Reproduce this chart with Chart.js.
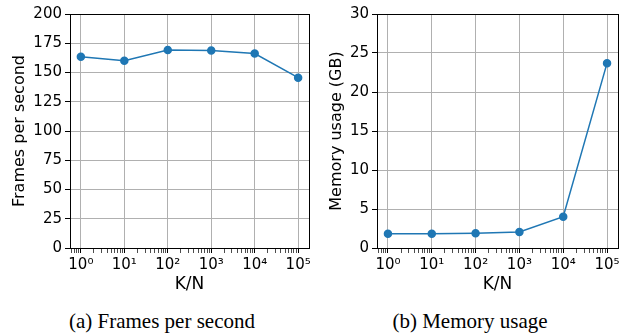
<!DOCTYPE html>
<html>
<head>
<meta charset="utf-8">
<script src="https://cdn.jsdelivr.net/npm/chart.js@4"></script>
<style>
  body { margin: 0; background: #fff; }
  #wrap { position: relative; width: 629px; height: 335px; }
  .box { position: absolute; top: 0; height: 300px; }
  .cap {
    position: absolute; top: 309px; width: 300px; margin-left: -150px;
    text-align: center; font-family: "Liberation Serif", serif;
    font-size: 21px; line-height: 24px; color: #000;
  }
</style>
</head>
<body>
<div id="wrap">
  <div class="box" style="left:0;width:314px"><canvas id="fpsChart"></canvas></div>
  <div class="box" style="left:314px;width:315px"><canvas id="memChart"></canvas></div>
  <div class="cap" style="left:162px">(a) Frames per second</div>
  <div class="cap" style="left:470px">(b) Memory usage</div>
</div>
<script>
const knValues = [1, 10, 100, 1000, 10000, 100000];
const fpsValues = [163.5, 160.1, 169.2, 168.8, 166.2, 145.6];
const memValues = [1.83, 1.83, 1.88, 2.05, 4.02, 23.7];
const fpsTicks = { min: 0, max: 200, step: 25 };
const memTicks = { min: 0, max: 30, step: 5 };

const sup = { 0: "⁰", 1: "¹", 2: "²", 3: "³", 4: "⁴", 5: "⁵" };
const blue = "#1f77b4";
const gridGray = "#b0b0b0";
const tickFont = { family: "DejaVu Sans", size: 15 };
const titleFont = { family: "DejaVu Sans", size: 16 };
const xTitleFont = { family: "DejaVu Sans", size: 17 };

function isMajor(v) {
  const e = Math.log10(v);
  return Math.abs(e - Math.round(e)) < 1e-9;
}

// matplotlib-like closed frame around the plot area
const frame = {
  id: "frame",
  afterDraw(chart) {
    const a = chart.chartArea;
    const c = chart.ctx;
    c.save();
    c.strokeStyle = "#000";
    c.lineWidth = 1;
    c.strokeRect(Math.round(a.left) + 0.5, Math.round(a.top) + 0.5,
      Math.round(a.right - a.left), Math.round(a.bottom - a.top));
    c.restore();
  },
};

function makeChart(id, values, yt, yTitle, yWidth, yTitlePad, padRight) {
  new Chart(document.getElementById(id), {
    type: "line",
    data: {
      datasets: [{
        data: knValues.map((k, i) => ({ x: k, y: values[i] })),
        borderColor: blue,
        backgroundColor: blue,
        borderWidth: 1.5,
        pointRadius: 3.5,
        pointHoverRadius: 3.5,
        tension: 0,
      }],
    },
    options: {
      responsive: false,
      animation: false,
      events: [],
      layout: { padding: { top: 14, right: padRight, left: 0, bottom: 0 } },
      plugins: { legend: { display: false }, tooltip: { enabled: false } },
      scales: {
        x: {
          type: "logarithmic",
          min: Math.pow(10, -0.25),
          max: Math.pow(10, 5.25),
          afterBuildTicks: (s) => {
            const t = [];
            for (let e = -1; e <= 5; e++) {
              for (let m = 1; m <= 9; m++) {
                const v = m * Math.pow(10, e);
                if (v >= s.min && v <= s.max) t.push({ value: v, major: m === 1 });
              }
            }
            s.ticks = t;
          },
          afterFit: (s) => { s.height = 52; },
          border: { color: "#000", width: 1 },
          grid: {
            color: (ctx) => ctx.tick && isMajor(ctx.tick.value) ? gridGray : "rgba(0,0,0,0)",
            lineWidth: 1,
            tickColor: "#000",
            tickWidth: (ctx) => ctx.tick && isMajor(ctx.tick.value) ? 1 : 0.7,
            tickLength: 5,
          },
          ticks: {
            autoSkip: false,
            maxRotation: 0,
            minRotation: 0,
            padding: 3,
            color: "#000",
            font: tickFont,
            callback: (v) => isMajor(v) ? "10" + sup[Math.round(Math.log10(v))] : "",
          },
          title: { display: true, text: "K/N", color: "#000", font: xTitleFont, padding: { top: 0, bottom: 5 } },
        },
        y: {
          min: yt.min,
          max: yt.max,
          afterFit: (s) => { s.width = yWidth; },
          border: { color: "#000", width: 1 },
          grid: { color: gridGray, lineWidth: 1, tickColor: "#000", tickLength: 5 },
          ticks: { stepSize: yt.step, padding: 3, color: "#000", font: tickFont },
          title: { display: true, text: yTitle, color: "#000", font: titleFont, padding: { top: yTitlePad, bottom: 0 } },
        },
      },
    },
    plugins: [frame],
  });
}

document.getElementById("fpsChart").width = 314;
document.getElementById("fpsChart").height = 300;
document.getElementById("memChart").width = 315;
document.getElementById("memChart").height = 300;

makeChart("fpsChart", fpsValues, fpsTicks, "Frames per second", 70, 10, 3);
makeChart("memChart", memValues, memTicks, "Memory usage (GB)", 63, 13, 11);
</script>
</body>
</html>
